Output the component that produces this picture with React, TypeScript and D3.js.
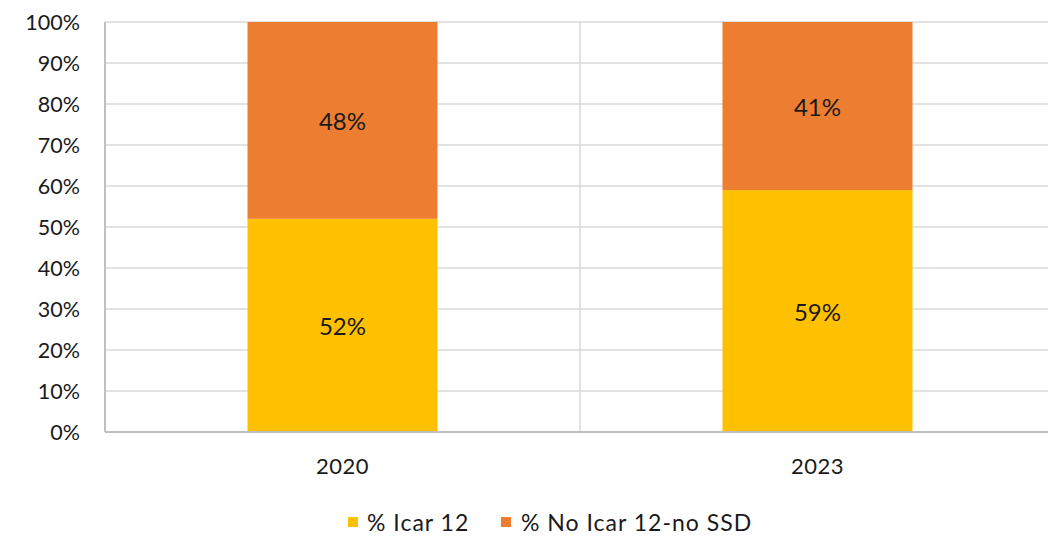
import React from "react";
import * as d3 from "d3";

const categories = ["2020", "2023"];
const icar12 = [52, 59];
const noIcar = [48, 41];
const seriesNames = ["% Icar 12", "% No Icar 12-no SSD"];
const seriesColors = ["#FFC000", "#ED7D31"];
const yTicks = [0, 10, 20, 30, 40, 50, 60, 70, 80, 90, 100];

export default function App() {
  const W = 1048, H = 539;
  const left = 105, right = 1055, top = 22, bottom = 432;
  const x = d3.scaleBand<string>().domain(categories).range([left, right]).paddingInner(0).paddingOuter(0);
  const y = d3.scaleLinear().domain([0, 100]).range([bottom, top]);
  const barW = x.bandwidth() * 0.4;
  const font = "'Lato', 'Open Sans', sans-serif";
  const stacked = categories.map((c, i) => {
    const a = icar12[i], b = noIcar[i];
    return [
      { y0: 0, y1: a, v: a, color: seriesColors[0] },
      { y0: a, y1: a + b, v: b, color: seriesColors[1] },
    ];
  });
  return (
    <svg width={W} height={H} style={{ position: "absolute", left: 0, top: 0, background: "#fff" }} fontFamily={font}>
      {yTicks.map((t) => (
        <line key={t} x1={left} x2={W} y1={y(t)} y2={y(t)} stroke="#d9d9d9" strokeWidth={1.5} />
      ))}
      {categories.slice(1).map((c) => (
        <line key={c} x1={x(c)!} x2={x(c)!} y1={top} y2={bottom} stroke="#d9d9d9" strokeWidth={1.5} />
      ))}
      {categories.map((c, i) =>
        stacked[i].map((s, j) => (
          <g key={c + j}>
            <rect
              x={x(c)! + x.bandwidth() / 2 - barW / 2}
              y={y(Math.min(s.y1, 100))}
              width={barW}
              height={y(s.y0) - y(Math.min(s.y1, 100))}
              fill={s.color}
            />
            <text
              x={x(c)! + x.bandwidth() / 2}
              y={(y(s.y0) + y(Math.min(s.y1, 100))) / 2}
              textAnchor="middle"
              dominantBaseline="central"
              fontSize={24}
              fill="#1a1a1a"
            >
              {s.v}%
            </text>
          </g>
        ))
      )}
      <line x1={left} x2={left} y1={top} y2={bottom} stroke="#bfbfbf" strokeWidth={2} />
      <line x1={left} x2={W} y1={bottom} y2={bottom} stroke="#bfbfbf" strokeWidth={2} />
      {yTicks.map((t) => (
        <text key={t} x={80} y={y(t)} textAnchor="end" dominantBaseline="central" fontSize={21.5} fill="#1a1a1a">
          {t}%
        </text>
      ))}
      {categories.map((c) => (
        <text key={c} x={x(c)! + x.bandwidth() / 2} y={465} textAnchor="middle" dominantBaseline="central" fontSize={22} fill="#1a1a1a" letterSpacing={0.5}>
          {c}
        </text>
      ))}
      <g>
        <rect x={348} y={517} width={10} height={10} fill={seriesColors[0]} />
        <text x={367} y={522} dominantBaseline="central" fontSize={23} letterSpacing={1} fill="#1a1a1a">{seriesNames[0]}</text>
        <rect x={501} y={517} width={10} height={10} fill={seriesColors[1]} />
        <text x={521} y={522} dominantBaseline="central" fontSize={23} letterSpacing={1} fill="#1a1a1a">{seriesNames[1]}</text>
      </g>
    </svg>
  );
}
